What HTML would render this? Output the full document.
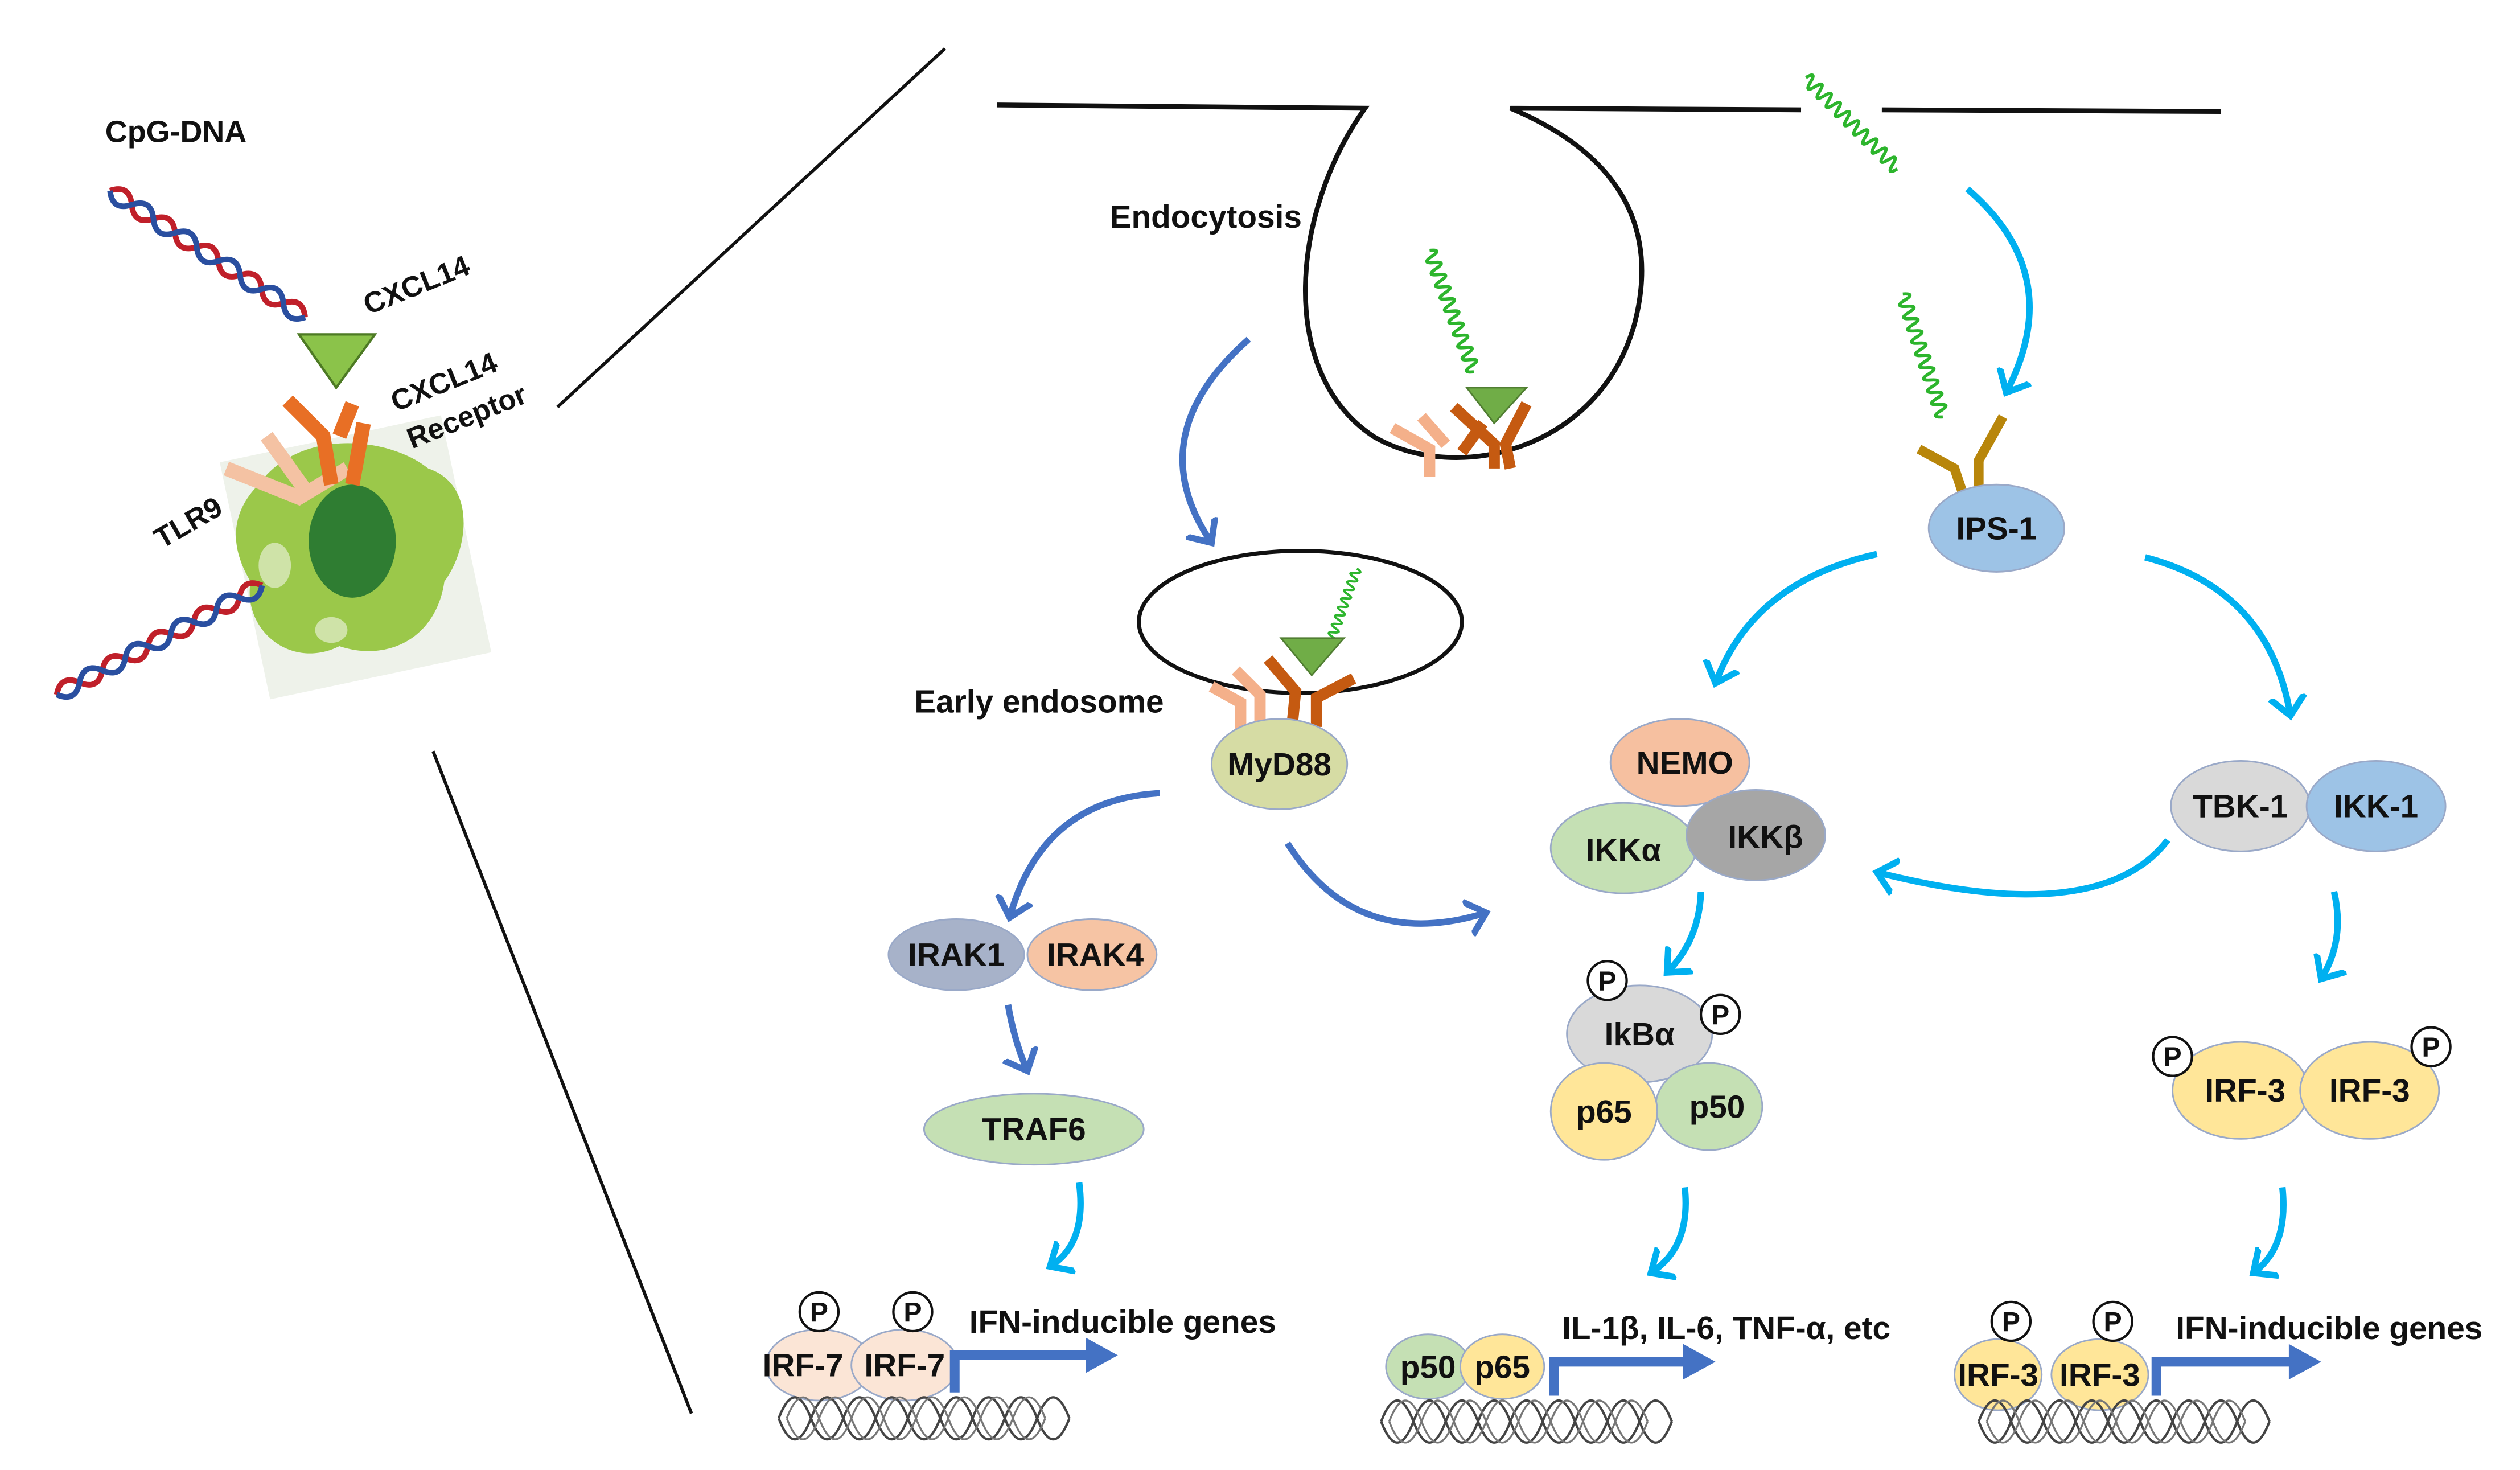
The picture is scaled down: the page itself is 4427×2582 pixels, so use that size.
<!DOCTYPE html>
<html><head><meta charset="utf-8"><style>
html,body{margin:0;padding:0;background:#fff;}
svg{display:block;}
text{font-family:"Liberation Sans",sans-serif;font-weight:bold;fill:#111;}
</style></head><body>
<svg width="4427" height="2582" viewBox="0 0 1560 910" xmlns="http://www.w3.org/2000/svg">
<defs>
<marker id="hd" markerWidth="6" markerHeight="6" refX="3" refY="3" orient="auto" markerUnits="strokeWidth"><path d="M0,0.3 L3,3 L0,5.7" fill="none" stroke="#4472c4" stroke-width="1"/></marker>
<marker id="hl" markerWidth="6" markerHeight="6" refX="3" refY="3" orient="auto" markerUnits="strokeWidth"><path d="M0,0.3 L3,3 L0,5.7" fill="none" stroke="#00b0f0" stroke-width="1"/></marker>
<g id="wave"><path d="M0,0 q2,-8 4,0 t4,0 t4,0 t4,0 t4,0 t4,0 t4,0 t4,0 t4,0 t4,0 t4,0 t4,0 t4,0 t4,0 t4,0 t4,0 t4,0 t4,0 t4,0 t4,0" fill="none" stroke="#2db52d" stroke-width="2"/></g>
<g id="helix"><path d="M0,0 q10,-26 20,0 t20,0 t20,0 t20,0 t20,0 t20,0 t20,0 t20,0 t20,0" fill="none" stroke="#444" stroke-width="1.5"/><path d="M0,0 q10,26 20,0 t20,0 t20,0 t20,0 t20,0 t20,0 t20,0 t20,0 t20,0" fill="none" stroke="#444" stroke-width="1.5"/><path d="M5,0 q10,-26 20,0 t20,0 t20,0 t20,0 t20,0 t20,0 t20,0 t20,0" fill="none" stroke="#777" stroke-width="1.2"/><path d="M5,0 q10,26 20,0 t20,0 t20,0 t20,0 t20,0 t20,0 t20,0 t20,0" fill="none" stroke="#777" stroke-width="1.2"/></g>
<g id="dna"><path d="M0,0 q8,-10 16,0 t16,0 t16,0 t16,0 t16,0 t16,0 t16,0 t16,0 t16,0" fill="none" stroke="#c0202a" stroke-width="3.5"/><path d="M0,0 q8,10 16,0 t16,0 t16,0 t16,0 t16,0 t16,0 t16,0 t16,0 t16,0" fill="none" stroke="#2a4fa0" stroke-width="3.5"/></g>
</defs>

<line x1="345" y1="252" x2="585" y2="30" stroke="#111" stroke-width="2"/>
<line x1="268" y1="465" x2="428" y2="875" stroke="#111" stroke-width="2"/>

<path d="M617,65 L845,67 C800,130 790,230 850,270 C900,300 990,280 1012,200 C1030,130 990,90 935,67 L1115,68" fill="none" stroke="#111" stroke-width="3"/>
<line x1="1165" y1="68" x2="1375" y2="69" stroke="#111" stroke-width="3"/>

<rect x="150" y="270" width="140" height="150" fill="#eef2ea" transform="rotate(-12 220 345)"/>
<path d="M160,300 C185,265 240,270 265,290 C295,300 290,340 275,360 C270,395 240,410 210,400 C180,415 150,390 155,360 C140,335 145,315 160,300Z" fill="#9bc84a"/>
<ellipse cx="218" cy="335" rx="27" ry="35" fill="#2f7d32"/>
<ellipse cx="170" cy="350" rx="10" ry="14" fill="#cfe3a8"/>
<ellipse cx="205" cy="390" rx="10" ry="8" fill="#cfe3a8"/>
<g stroke="#f4c2a3" stroke-width="9" fill="none"><path d="M140,290 L185,308 L215,290 M165,270 L190,305"/></g>
<g stroke="#e86f25" stroke-width="9" fill="none"><path d="M178,248 L200,270 L205,300 M218,250 L210,270 M225,262 L218,300"/></g>
<use href="#dna" transform="translate(68,118) rotate(33)"/>
<use href="#dna" transform="translate(35,430) rotate(-28)"/>
<path d="M185,207 L232,207 L208,240Z" fill="#8bc34a" stroke="#4d7a24" stroke-width="1.5"/>
<text x="65" y="88" font-size="19">CpG-DNA</text>
<text x="228" y="195" font-size="18" transform="rotate(-22 228 195)">CXCL14</text>
<text x="245" y="255" font-size="18" transform="rotate(-22 245 255)">CXCL14</text>
<text x="255" y="278" font-size="18" transform="rotate(-22 255 278)">Receptor</text>
<text x="100" y="340" font-size="18" transform="rotate(-30 100 340)">TLR9</text>

<use href="#wave" transform="translate(1118,48) rotate(45)"/>
<use href="#wave" transform="translate(1178,182) rotate(72)"/>
<use href="#wave" transform="translate(885,155) rotate(70)"/>
<use href="#wave" transform="translate(840,352) rotate(110) scale(0.7)"/>

<g stroke="#f4b08a" stroke-width="7" fill="none"><path d="M862,265 L885,278 L885,295 M880,258 L895,275"/></g>
<g stroke="#c55a11" stroke-width="7" fill="none"><path d="M900,252 L925,275 L925,290 M945,250 L932,275 L935,290 M918,262 L905,280"/></g>
<path d="M908,240 L945,240 L925,262Z" fill="#70ad47" stroke="#507e32"/>
<g stroke="#b8860b" stroke-width="6" fill="none"><path d="M1188,278 L1210,290 L1215,305 M1240,258 L1225,285 L1225,305"/></g>

<ellipse cx="805" cy="385" rx="100" ry="44" fill="none" stroke="#111" stroke-width="2.5"/>
<g stroke="#f4b08a" stroke-width="7" fill="none"><path d="M750,425 L768,435 L768,452 M765,415 L780,430 L780,450"/></g>
<g stroke="#c55a11" stroke-width="7" fill="none"><path d="M785,408 L802,428 L800,448 M838,420 L815,432 L815,450"/></g>
<path d="M793,395 L832,395 L812,418Z" fill="#70ad47" stroke="#507e32"/>

<text x="687" y="141" font-size="20">Endocytosis</text>
<text x="566" y="441" font-size="20">Early endosome</text>

<g fill="none" stroke="#4472c4" stroke-width="4">
<path d="M773,210 Q705,270 750,336" marker-end="url(#hd)"/>
<path d="M718,491 Q645,495 625,568" marker-end="url(#hd)"/>
<path d="M624,622 Q628,645 636,663" marker-end="url(#hd)"/>
<path d="M797,522 Q840,590 920,565" marker-end="url(#hd)"/>
</g>
<g fill="none" stroke="#00b0f0" stroke-width="4">
<path d="M1218,117 Q1280,170 1242,243" marker-end="url(#hl)"/>
<path d="M1162,343 Q1085,360 1062,423" marker-end="url(#hl)"/>
<path d="M1328,345 Q1405,365 1418,443" marker-end="url(#hl)"/>
<path d="M1342,520 Q1300,575 1162,540" marker-end="url(#hl)"/>
<path d="M1053,552 Q1052,582 1032,602" marker-end="url(#hl)"/>
<path d="M1445,552 Q1452,582 1437,606" marker-end="url(#hl)"/>
<path d="M668,732 Q673,770 650,784" marker-end="url(#hl)"/>
<path d="M1043,735 Q1047,772 1022,788" marker-end="url(#hl)"/>
<path d="M1413,735 Q1417,772 1395,788" marker-end="url(#hl)"/>
</g>

<g stroke="#9aa9c8" stroke-width="1">
<ellipse cx="792" cy="473" rx="42" ry="28" fill="#d6dca4"/>
<ellipse cx="592" cy="591" rx="42" ry="22" fill="#a7b2c9"/>
<ellipse cx="676" cy="591" rx="40" ry="22" fill="#f6c4a4"/>
<ellipse cx="640" cy="699" rx="68" ry="22" fill="#c5e0b4"/>
<ellipse cx="1040" cy="472" rx="43" ry="27" fill="#f6c0a0"/>
<ellipse cx="1005" cy="525" rx="45" ry="28" fill="#c5e0b4"/>
<ellipse cx="1087" cy="517" rx="43" ry="28" fill="#a6a6a6"/>
<ellipse cx="1236" cy="327" rx="42" ry="27" fill="#9dc3e6"/>
<ellipse cx="1387" cy="499" rx="43" ry="28" fill="#d9d9d9"/>
<ellipse cx="1471" cy="499" rx="43" ry="28" fill="#9dc3e6"/>
<ellipse cx="1015" cy="640" rx="45" ry="30" fill="#d9d9d9"/>
<ellipse cx="1058" cy="685" rx="33" ry="27" fill="#c5e0b4"/>
<ellipse cx="993" cy="688" rx="33" ry="30" fill="#ffe699"/>
<ellipse cx="1387" cy="675" rx="42" ry="30" fill="#ffe699"/>
<ellipse cx="1467" cy="675" rx="43" ry="30" fill="#ffe699"/>
<ellipse cx="507" cy="845" rx="33" ry="22" fill="#fbe5d6"/>
<ellipse cx="560" cy="845" rx="33" ry="22" fill="#fbe5d6"/>
<ellipse cx="884" cy="846" rx="26" ry="20" fill="#c5e0b4"/>
<ellipse cx="930" cy="846" rx="26" ry="20" fill="#ffe699"/>
<ellipse cx="1237" cy="851" rx="27" ry="22" fill="#ffe699"/>
<ellipse cx="1300" cy="851" rx="30" ry="22" fill="#ffe699"/>
</g>
<g font-size="20" text-anchor="middle">
<text x="792" y="480">MyD88</text>
<text x="592" y="598">IRAK1</text>
<text x="678" y="598">IRAK4</text>
<text x="640" y="706">TRAF6</text>
<text x="1043" y="479">NEMO</text>
<text x="1005" y="533">IKKα</text>
<text x="1093" y="525">IKKβ</text>
<text x="1236" y="334">IPS-1</text>
<text x="1387" y="506">TBK-1</text>
<text x="1471" y="506">IKK-1</text>
<text x="1015" y="647">IkBα</text>
<text x="993" y="695">p65</text>
<text x="1063" y="692">p50</text>
<text x="1390" y="682">IRF-3</text>
<text x="1467" y="682">IRF-3</text>
<text x="497" y="852">IRF-7</text>
<text x="560" y="852">IRF-7</text>
<text x="884" y="853">p50</text>
<text x="930" y="853">p65</text>
<text x="1237" y="858">IRF-3</text>
<text x="1300" y="858">IRF-3</text>
</g>
<g font-size="17" text-anchor="middle">
<g fill="#fff" stroke="#111" stroke-width="1.5">
<circle cx="995" cy="607" r="12"/><circle cx="1065" cy="628" r="12"/>
<circle cx="1345" cy="654" r="12"/><circle cx="1505" cy="648" r="12"/>
<circle cx="507" cy="812" r="12"/><circle cx="565" cy="812" r="12"/>
<circle cx="1245" cy="818" r="12"/><circle cx="1308" cy="818" r="12"/>
</g>
<text x="995" y="613">P</text><text x="1065" y="634">P</text>
<text x="1345" y="660">P</text><text x="1505" y="654">P</text>
<text x="507" y="818">P</text><text x="565" y="818">P</text>
<text x="1245" y="824">P</text><text x="1308" y="824">P</text>
</g>

<use href="#helix" transform="translate(482,878)"/>
<use href="#helix" transform="translate(855,880)"/>
<use href="#helix" transform="translate(1225,880)"/>
<g fill="none" stroke="#4472c4" stroke-width="6">
<path d="M591,862 L591,839 L675,839"/>
<path d="M962,864 L962,843 L1045,843"/>
<path d="M1335,864 L1335,843 L1420,843"/>
</g>
<g fill="#4472c4">
<path d="M672,828 L692,839 L672,850Z"/>
<path d="M1042,832 L1062,843 L1042,854Z"/>
<path d="M1417,832 L1437,843 L1417,854Z"/>
</g>
<g font-size="20">
<text x="600" y="825">IFN-inducible genes</text>
<text x="967" y="829">IL-1β, IL-6, TNF-α, etc</text>
<text x="1347" y="829">IFN-inducible genes</text>
</g>
</svg>
</body></html>
